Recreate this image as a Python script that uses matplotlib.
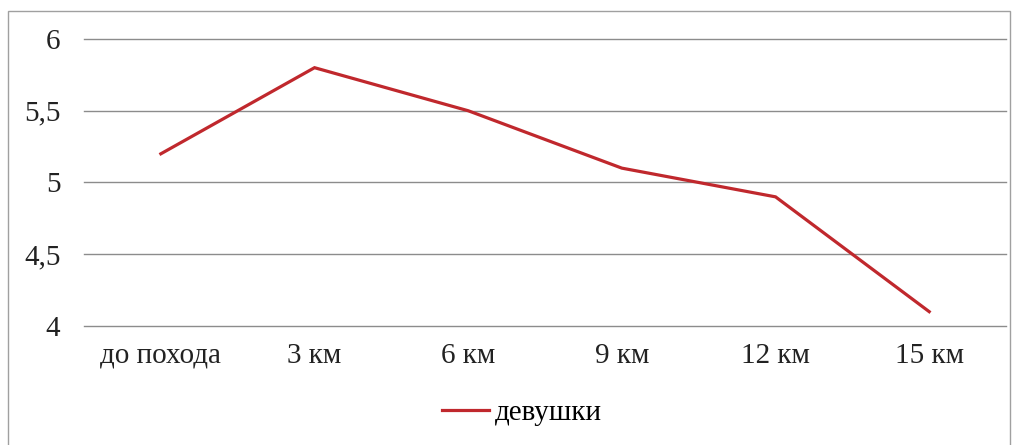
import matplotlib.pyplot as plt
from matplotlib.patches import Rectangle

categories = ['до похода', '3 км', '6 км', '9 км', '12 км', '15 км']
girls = [5.2, 5.8, 5.5, 5.1, 4.9, 4.1]
yticks = [4, 4.5, 5, 5.5, 6]
ytick_labels = ['4', '4,5', '5', '5,5', '6']

plt.rcParams['font.family'] = ['Liberation Serif', 'DejaVu Serif']

fig = plt.figure(figsize=(10.16, 4.45), dpi=100)
ax = fig.add_axes([0.0827, 0.2674, 0.9075, 0.645])

# outer chart frame
fig.patches.append(Rectangle((8 / 1016, -0.01), 1002 / 1016, 1 - 11 / 445 + 0.01,
                             transform=fig.transFigure, fill=False,
                             edgecolor='#a0a0a0', linewidth=1.0))

x = range(len(categories))
ax.plot(x, girls, color='#c0282d', linewidth=2.3, label='девушки',
        solid_joinstyle='miter')

ax.set_xlim(-0.5, len(categories) - 0.5)
ax.set_ylim(4, 6)
ax.set_yticks(yticks)
ax.set_yticklabels(ytick_labels)
ax.set_xticks(list(x))
ax.set_xticklabels(categories)
ax.tick_params(axis='y', length=0, pad=17, labelsize=21, labelcolor='#222222')
ax.tick_params(axis='x', length=0, pad=12, labelsize=21, labelcolor='#222222')

ax.grid(True, axis='y', color='#8c8c8c', linewidth=1.0)
for gl in ax.get_ygridlines():
    gl.set_clip_on(False)
ax.set_axisbelow(True)
for s in ax.spines.values():
    s.set_visible(False)

# legend below the plot area
fig.legend(*ax.get_legend_handles_labels(), loc='center',
           bbox_to_anchor=(522 / 1016, 1 - 413 / 445), frameon=False,
           fontsize=21, handlelength=1.6, handletextpad=0.2)

plt.savefig('out.png', dpi=100)
